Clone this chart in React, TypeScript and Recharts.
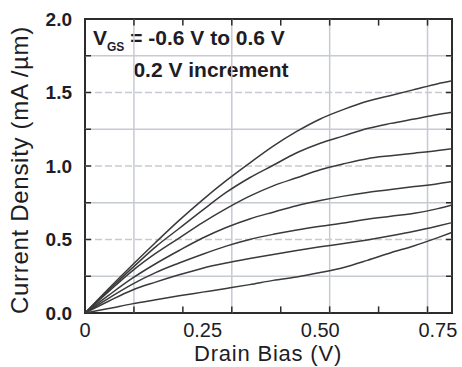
import React from 'react';
import { LineChart, Line, XAxis, YAxis, ReferenceLine, ReferenceArea } from 'recharts';

// Drain bias sample points (V)
const drainBias = [0, 0.05, 0.1, 0.15, 0.2, 0.25, 0.3, 0.35, 0.4, 0.45, 0.5, 0.55, 0.6, 0.65, 0.7, 0.75, 0.78];

// Current density (mA/um) for each gate bias, V_GS = -0.6 V ... 0.6 V
const vgsNeg06 = [0, 0.03, 0.062, 0.09, 0.117, 0.142, 0.167, 0.193, 0.222, 0.245, 0.275, 0.31, 0.358, 0.41, 0.458, 0.513, 0.548];
const vgsNeg04 = [0, 0.08, 0.155, 0.21, 0.26, 0.305, 0.34, 0.37, 0.398, 0.425, 0.45, 0.472, 0.497, 0.525, 0.556, 0.592, 0.615];
const vgsNeg02 = [0, 0.1, 0.195, 0.275, 0.34, 0.4, 0.455, 0.5, 0.535, 0.565, 0.59, 0.612, 0.638, 0.658, 0.678, 0.71, 0.735];
const vgs00 = [0, 0.12, 0.235, 0.335, 0.425, 0.51, 0.582, 0.64, 0.686, 0.73, 0.765, 0.795, 0.82, 0.84, 0.86, 0.88, 0.895];
const vgsPos02 = [0, 0.145, 0.285, 0.405, 0.51, 0.615, 0.71, 0.795, 0.865, 0.92, 0.975, 1.015, 1.05, 1.07, 1.087, 1.105, 1.118];
const vgsPos04 = [0, 0.155, 0.305, 0.45, 0.575, 0.7, 0.82, 0.92, 1.005, 1.09, 1.155, 1.205, 1.255, 1.29, 1.32, 1.35, 1.365];
const vgsPos06 = [0, 0.165, 0.325, 0.48, 0.63, 0.77, 0.9, 1.02, 1.135, 1.235, 1.32, 1.385, 1.44, 1.48, 1.52, 1.56, 1.58];

const seriesList = [vgsNeg06, vgsNeg04, vgsNeg02, vgs00, vgsPos02, vgsPos04, vgsPos06];

// Axis ticks and grid
const xDomain = [0, 0.78];
const yDomain = [0, 2];
const xTickLabels = [0, 0.25, 0.5, 0.75];
const yTickLabels = [0, 0.5, 1.0, 1.5, 2.0];
const xMinorTicks = [0.104, 0.208, 0.312, 0.416, 0.52, 0.624, 0.728];
const xGridLines = [0.104, 0.312, 0.52, 0.728];
const yMinorTicks = [0.25, 0.5, 0.75, 1.0, 1.25, 1.5, 1.75];
const yDashedGrid = [0.5, 1.0, 1.5];
const ySolidGrid = [0.25, 0.75, 1.25, 1.75];

const data = drainBias.map((x, i) => {
  const row: Record<string, number> = { x };
  seriesList.forEach((s, k) => {
    row['s' + k] = s[i];
  });
  return row;
});

const FONT = '"Liberation Sans", Arial, Helvetica, sans-serif';
const TEXT = '#1d1d26';
const GRID = '#c6cad3';
const FRAME = '#2c2c2c';
const CURVE = '#3a3a3a';
const TICK_X = 0.0128;
const TICK_Y = 0.045;

export default function App() {
  return (
    <div style={{ position: 'absolute', left: 0, top: 0, width: 462, height: 367, background: '#fff' }}>
      <LineChart
        width={462}
        height={367}
        data={data}
        margin={{ top: 19, right: 10, bottom: 24, left: 35 }}
      >
        <XAxis
          dataKey="x"
          type="number"
          domain={xDomain}
          ticks={xTickLabels}
          allowDataOverflow
          tickFormatter={(v: number) => (v === 0 ? '0' : v.toFixed(2))}
          tickLine={false}
          axisLine={false}
          tickMargin={4}
          height={30}
          tick={{ fontSize: 20, fill: TEXT, fontFamily: FONT }}
          interval={0}
        />
        <YAxis
          type="number"
          domain={yDomain}
          ticks={yTickLabels}
          allowDataOverflow
          tickFormatter={(v: number) => v.toFixed(1)}
          tickLine={false}
          axisLine={false}
          tickMargin={7}
          width={50}
          tick={{ fontSize: 19, fill: TEXT, fontFamily: FONT, fontWeight: 'bold' }}
          interval={0}
        />

        {ySolidGrid.map((v) => (
          <ReferenceLine key={'ys' + v} y={v} stroke={GRID} strokeWidth={1.5} />
        ))}
        {yDashedGrid.map((v) => (
          <ReferenceLine key={'yd' + v} y={v} stroke={GRID} strokeWidth={1.5} strokeDasharray="7 3" />
        ))}
        {xGridLines.map((v) => (
          <ReferenceLine key={'xg' + v} x={v} stroke={GRID} strokeWidth={1.5} />
        ))}

        {xMinorTicks.map((v) => (
          <ReferenceLine key={'tb' + v} segment={[{ x: v, y: 0 }, { x: v, y: TICK_Y }]} stroke={FRAME} strokeWidth={1.5} />
        ))}
        {xMinorTicks.map((v) => (
          <ReferenceLine key={'tt' + v} segment={[{ x: v, y: 2 }, { x: v, y: 2 - TICK_Y }]} stroke={FRAME} strokeWidth={1.5} />
        ))}
        {yMinorTicks.map((v) => (
          <ReferenceLine key={'tl' + v} segment={[{ x: 0, y: v }, { x: TICK_X, y: v }]} stroke={FRAME} strokeWidth={1.5} />
        ))}
        {yMinorTicks.map((v) => (
          <ReferenceLine key={'tr' + v} segment={[{ x: 0.78, y: v }, { x: 0.78 - TICK_X, y: v }]} stroke={FRAME} strokeWidth={1.5} />
        ))}

        {seriesList.map((_, k) => (
          <Line
            key={'s' + k}
            dataKey={'s' + k}
            type="monotone"
            stroke={CURVE}
            strokeWidth={1.5}
            dot={false}
            activeDot={false}
            isAnimationActive={false}
          />
        ))}

        <ReferenceArea x1={0} x2={0.78} y1={0} y2={2} fill="none" stroke={FRAME} strokeWidth={2} />

        <text x={93} y={45} fontFamily={FONT} fontSize={21} fontWeight="bold" fill={TEXT}>
          V<tspan fontSize={12} dy={6}>GS</tspan>
          <tspan dy={-6}> = -0.6 V to 0.6 V</tspan>
        </text>
        <text x={211} y={77} fontFamily={FONT} fontSize={21} fontWeight="bold" fill={TEXT} textAnchor="middle">
          0.2 V increment
        </text>
        <text x={268} y={361} fontFamily={FONT} fontSize={22} letterSpacing={0.8} fill={TEXT} textAnchor="middle">
          Drain Bias (V)
        </text>
        <text
          x={19}
          y={170}
          fontFamily={FONT}
          fontSize={24}
          letterSpacing={0.7}
          fill={TEXT}
          textAnchor="middle"
          dominantBaseline="central"
          transform="rotate(-90 19 170)"
        >
          Current Density (mA /µm)
        </text>
      </LineChart>
    </div>
  );
}
